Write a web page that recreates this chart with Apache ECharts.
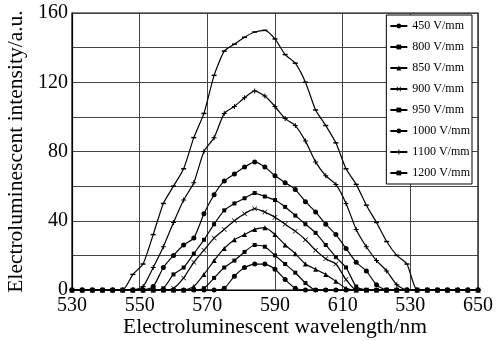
<!DOCTYPE html>
<html>
<head>
<meta charset="utf-8">
<script src="https://cdn.jsdelivr.net/npm/echarts@6/dist/echarts.min.js"></script>
<style>
  html, body { margin: 0; padding: 0; background: #fff; }
  #chart { width: 496px; height: 341px; }
</style>
</head>
<body>
<div id="chart"></div>
<script>
var chart = echarts.init(document.getElementById('chart'));

// wavelength (nm), one sample every 3 nm
var wavelengths = [530, 533, 536, 539, 542, 545, 548, 551, 554, 557, 560, 563, 566, 569, 572, 575, 578, 581, 584, 587, 590,
                   593, 596, 599, 602, 605, 608, 611, 614, 617, 620, 623, 626, 629, 632, 635, 638, 641, 644, 647, 650];

var xTickLabels = { 530: '530', 550: '550', 570: '570', 590: '590', 610: '610', 630: '530', 650: '650' };
var yTickLabels = [0, 40, 80, 120, 160];

var seriesNames = ['450 V/mm', '800 V/mm', '850 V/mm', '900 V/mm', '950 V/mm', '1000 V/mm', '1100 V/mm', '1200 V/mm'];

var v450 = [0, 0, 0, 0, 0, 0, 0, 0, 0, 0, 0, 0, 0, 0, 0, 1, 8, 13, 15, 15, 12,
            6, 1, 0, 0, 0, 0, 0, 0, 0, 0, 0, 0, 0, 0, 0, 0, 0, 0, 0, 0];
var v800 = [0, 0, 0, 0, 0, 0, 0, 0, 0, 0, 0, 0, 0, 1, 7, 13, 17, 22, 26, 25, 20,
            15, 10, 4, 0, 0, 0, 0, 0, 0, 0, 0, 0, 0, 0, 0, 0, 0, 0, 0, 0];
var v850 = [0, 0, 0, 0, 0, 0, 0, 0, 0, 0, 0, 0, 2, 9, 17, 24, 29, 32, 35, 36, 32,
            26, 21, 15, 12, 9, 5, 1, 0, 0, 0, 0, 0, 0, 0, 0, 0, 0, 0, 0, 0];
var v900 = [0, 0, 0, 0, 0, 0, 0, 0, 0, 0, 1, 7, 16, 23, 30, 35, 40, 44, 47, 45, 42,
            38, 34, 29, 23, 18, 15, 6, 0, 0, 0, 0, 0, 0, 0, 0, 0, 0, 0, 0, 0];
var v950 = [0, 0, 0, 0, 0, 0, 0, 0, 0, 1, 9, 13, 21, 29, 38, 46, 50, 53, 56, 54, 52,
            48, 43, 38, 33, 26, 19, 13, 2, 0, 0, 0, 0, 0, 0, 0, 0, 0, 0, 0, 0];
var v1000 = [0, 0, 0, 0, 0, 0, 0, 0, 2, 13, 20, 26, 30, 44, 55, 63, 67, 71, 74, 71, 66,
             62, 58, 51, 45, 38, 32, 24, 16, 11, 3, 0, 0, 0, 0, 0, 0, 0, 0, 0, 0];
var v1100 = [0, 0, 0, 0, 0, 0, 0, 2, 13, 25, 39, 52, 62, 80, 88, 102, 106, 111, 115, 112, 106,
             99, 95, 86, 74, 66, 61, 50, 35, 25, 17, 11, 3, 0, 0, 0, 0, 0, 0, 0, 0];
var v1200 = [0, 0, 0, 0, 0, 0, 9, 15, 32, 50, 60, 70, 88, 102, 124, 138, 142, 146, 149, 150, 145,
             136, 131, 120, 104, 95, 85, 70, 61, 49, 39, 28, 20, 15, 0, 0, 0, 0, 0, 0, 0];

var allValues = [v450, v800, v850, v900, v950, v1000, v1100, v1200];
var symbols = [
  'circle',
  'rect',
  'triangle',
  'path://M0,1L1,0L5,4L9,0L10,1L6,5L10,9L9,10L5,6L1,10L0,9L4,5Z',
  'rect',
  'circle',
  'path://M4,0L6,0L6,4L10,4L10,6L6,6L6,10L4,10L4,6L0,6L0,4L4,4Z',
  'path://M0,0L10,0L10,2L0,2Z'
];
var symbolSizes = [5, 4, 5, 5, 4, 5, 5, [5, 1.5]];

var font = '"Liberation Serif", "Times New Roman", serif';

var series = seriesNames.map(function (name, k) {
  return {
    name: name,
    type: 'line',
    data: wavelengths.map(function (w, i) { return [w, allValues[k][i]]; }),
    symbol: symbols[k],
    symbolSize: symbolSizes[k],
    showSymbol: true,
    smooth: 0.2,
    lineStyle: { color: '#000', width: 1.2 },
    itemStyle: { color: '#000' },
    emphasis: { disabled: true },
    animation: false
  };
});

var option = {
  backgroundColor: '#fff',
  animation: false,
  grid: {
    left: 72, right: 18, top: 13, bottom: 51,
    outerBoundsMode: 'none',
    containLabel: false,
    show: true, borderColor: '#000', borderWidth: 1.2
  },
  legend: {
    show: true,
    orient: 'vertical',
    right: 24,
    top: 15,
    padding: [5, 2, 5, 3],
    itemGap: 9,
    itemWidth: 17,
    itemHeight: 6,
    backgroundColor: '#fff',
    borderColor: '#000',
    borderWidth: 1,
    textStyle: { fontFamily: font, fontSize: 12, color: '#000' },
    data: seriesNames
  },
  xAxis: {
    type: 'value',
    min: 530,
    max: 650,
    interval: 20,
    name: 'Electroluminescent wavelength/nm',
    nameLocation: 'middle',
    nameGap: 26,
    nameMoveOverlap: false,
    nameTextStyle: { fontFamily: font, fontSize: 21.5, color: '#000' },
    axisLine: { lineStyle: { color: '#000', width: 1.2 } },
    axisTick: { show: false },
    axisLabel: {
      fontFamily: font, fontSize: 20, color: '#000', margin: 6,
      formatter: function (v) { return xTickLabels[v] || ''; }
    },
    splitLine: { show: true, lineStyle: { color: '#444', width: 1 } }
  },
  yAxis: {
    type: 'value',
    min: 0,
    max: 160,
    interval: 20,
    name: 'Electroluminescent intensity/a.u.',
    nameLocation: 'middle',
    nameGap: 44,
    nameTextStyle: { fontFamily: font, fontSize: 21.5, color: '#000' },
    axisLine: { show: true, lineStyle: { color: '#000', width: 1.2 } },
    axisTick: { show: false },
    axisLabel: {
      fontFamily: font, fontSize: 20, color: '#000', margin: 4,
      formatter: function (v) { return yTickLabels.indexOf(v) >= 0 ? String(v) : ''; }
    },
    splitLine: { show: true, lineStyle: { color: '#444', width: 1 } }
  },
  series: series
};

chart.setOption(option);

window.onresize = function () {
  chart.resize();
};
</script>
</body>
</html>
